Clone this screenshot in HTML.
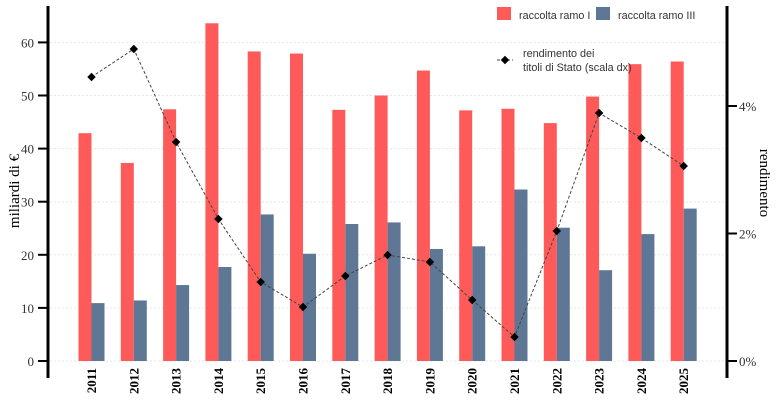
<!DOCTYPE html>
<html><head><meta charset="utf-8"><style>
body{margin:0;background:#fff;}
svg{display:block;}
text{font-family:"Liberation Serif",serif;}
</style></head><body>
<svg id="s" width="779" height="401" xmlns="http://www.w3.org/2000/svg">
<g id="grid"></g>
<g id="bars"></g>
<polyline id="line" fill="none" stroke="#444" stroke-width="1" stroke-dasharray="3,2"/>
<g id="pts"></g>
<line x1="48" y1="6" x2="48" y2="378" stroke="#000" stroke-width="3"/>
<line x1="727" y1="6" x2="727" y2="378" stroke="#000" stroke-width="3"/>
<g id="ticks"></g>
<text transform="translate(19,191) rotate(-90)" text-anchor="middle" font-size="15">miliardi di €</text>
<text transform="translate(760,183) rotate(90)" text-anchor="middle" font-size="15">rendimento</text>
<rect x="497" y="7" width="14" height="13" fill="#ff5a5a"/>
<text x="519" y="19" style="font-family:'Liberation Sans',sans-serif" font-size="10.8" fill="#333">raccolta ramo I</text>
<rect x="596" y="7" width="14" height="13" fill="#5e7794"/>
<text x="618" y="19" style="font-family:'Liberation Sans',sans-serif" font-size="10.8" fill="#333">raccolta ramo III</text>
<line x1="497" y1="60" x2="513" y2="60" stroke="#444" stroke-dasharray="3,2"/>
<rect x="502" y="57" width="6" height="6" fill="#000" transform="rotate(45 505 60)"/>
<text x="523" y="57" style="font-family:'Liberation Sans',sans-serif" font-size="10.8" fill="#333">rendimento dei</text>
<text x="523" y="71" style="font-family:'Liberation Sans',sans-serif" font-size="10.8" fill="#333">titoli di Stato (scala dx)</text>
</svg>
<script>
var ns="http://www.w3.org/2000/svg";
function el(p,t,a,txt){var e=document.createElementNS(ns,t);for(var k in a)e.setAttribute(k,a[k]);if(txt!=null)e.textContent=txt;document.getElementById(p).appendChild(e);return e;}
var r=[42.9,37.3,47.4,63.6,58.3,57.9,47.3,50,54.7,47.2,47.5,44.8,49.8,55.9,56.4];
var b=[10.9,11.4,14.3,17.7,27.6,20.2,25.8,26.1,21.1,21.6,32.3,25.1,17.1,23.9,28.7];
var ly=[77,49,142,219,282,307,276,255,262,300,337,231,113,138,166];
function Y(v){return 361-v*5.31;}
for(var i=0;i<=6;i++){var y=Y(i*10);el("grid","line",{x1:50,x2:725,y1:y,y2:y,stroke:"#e6e6e6","stroke-dasharray":"2,2"});
el("ticks","line",{x1:38,x2:48,y1:y,y2:y,stroke:"#000","stroke-width":2});
el("ticks","text",{x:34,y:y+5,"text-anchor":"end","font-size":13,fill:"#333"},String(i*10));}
[0,2,4].forEach(function(p){var y=361-p*63.75;el("ticks","line",{x1:727,x2:737,y1:y,y2:y,stroke:"#000","stroke-width":2});
el("ticks","text",{x:739,y:y+5,"font-size":13,fill:"#333"},p+"%");});
var pts=[];
for(var i=0;i<15;i++){var c=91.5+i*42.3;
el("bars","rect",{x:c-13,y:Y(r[i]),width:13,height:r[i]*5.31,fill:"#ff5a5a"});
el("bars","rect",{x:c,y:Y(b[i]),width:13,height:b[i]*5.31,fill:"#5e7794"});
pts.push(c+","+ly[i]);
el("pts","rect",{x:c-3,y:ly[i]-3,width:6,height:6,fill:"#000",transform:"rotate(45 "+c+" "+ly[i]+")"});
el("ticks","text",{transform:"translate("+(c+4.5)+",368) rotate(-90)","text-anchor":"end","font-size":13,"font-weight":"bold"},String(2011+i));}
document.getElementById("line").setAttribute("points",pts.join(" "));
</script>
</body></html>
